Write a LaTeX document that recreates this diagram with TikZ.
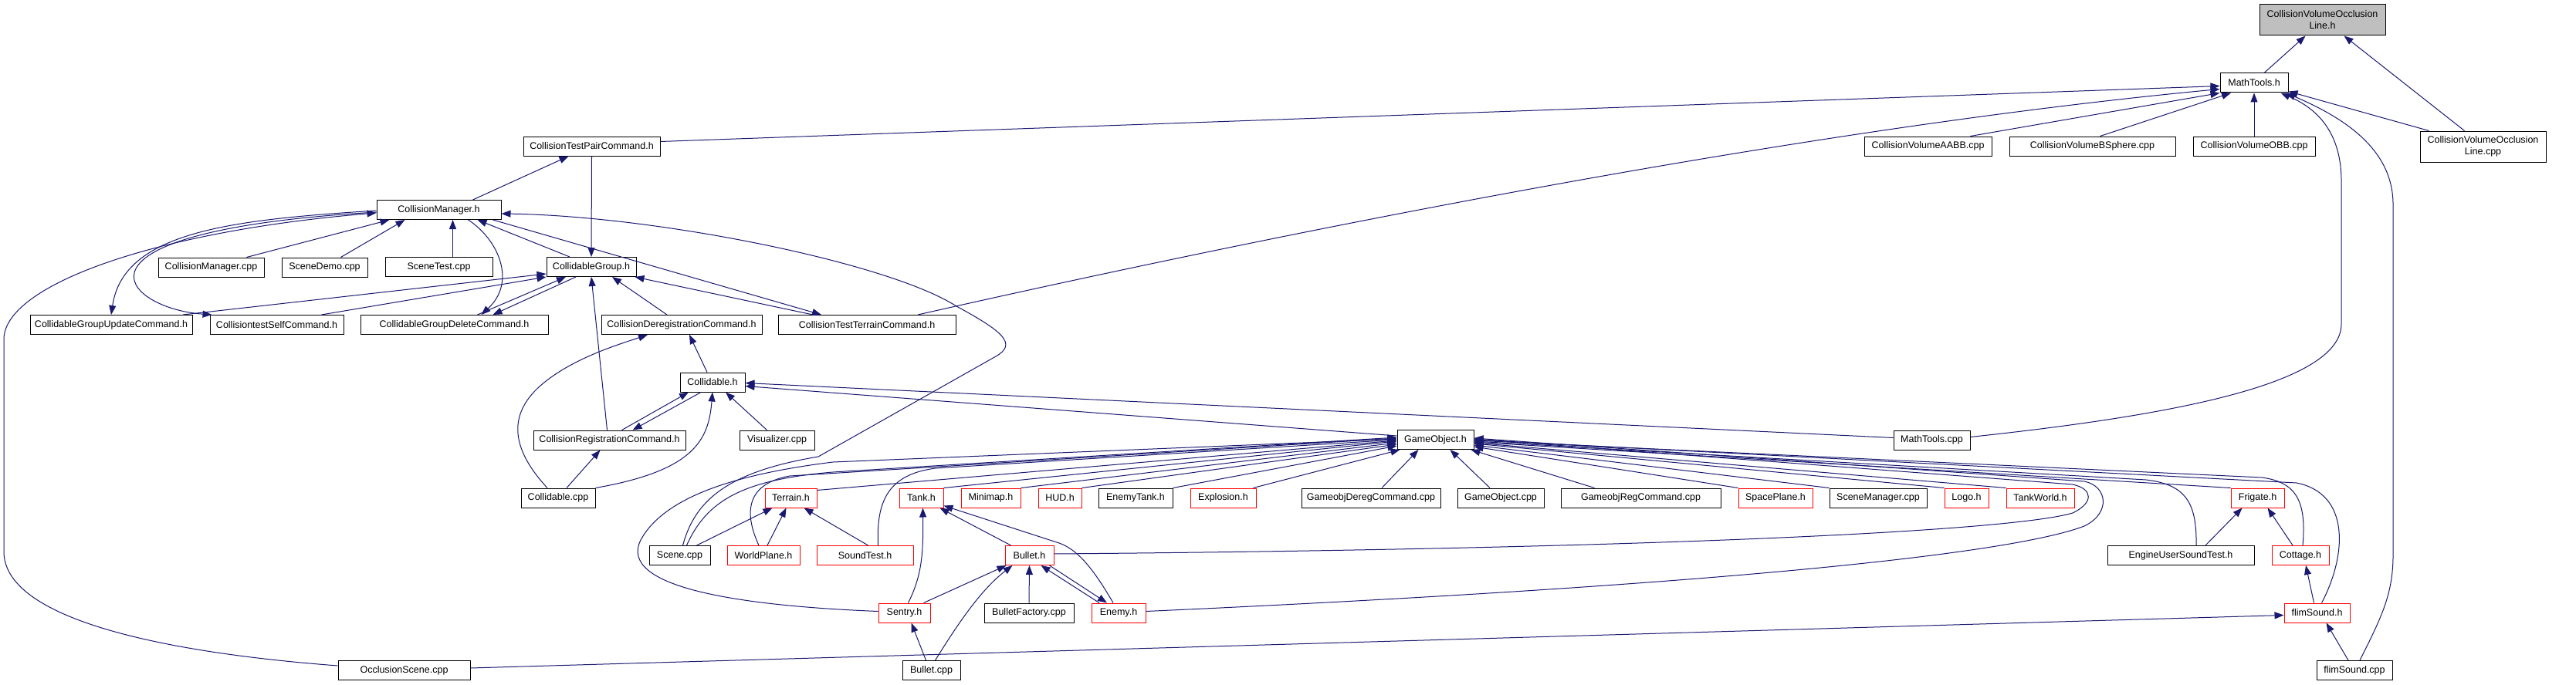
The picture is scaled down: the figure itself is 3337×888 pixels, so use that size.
\documentclass[tikz,border=0pt]{standalone}
\usepackage{fontspec}
\setmainfont{Liberation Sans}
\usetikzlibrary{arrows.meta}
\definecolor{edgec}{HTML}{191970}
\definecolor{rootfill}{HTML}{BFBFBF}
\begin{document}
\begin{tikzpicture}[x=1pt,y=-1pt,
  box/.style={draw=black, fill=white, line width=1pt, inner sep=0pt, minimum height=25pt, font=\fontsize{12.5}{15}\selectfont, align=center},
  rbox/.style={box, draw=red},
  gbox/.style={box, fill=rootfill},
  dep/.style={draw=edgec, line width=1pt, -{Triangle[length=12pt,width=9pt]}}]
\path[use as bounding box, fill=white] (0,0) rectangle (3337,888);

% nodes
\node[gbox,minimum width=163pt,minimum height=40pt] (cvolh) at (3008.5,26) {CollisionVolumeOcclusion\\Line.h};
\node[box,minimum width=88pt] (mth) at (2920,107.5) {MathTools.h};
\node[box,minimum width=158pt] (obb) at (2920,189.5) {CollisionVolumeOBB.cpp};
\node[box,minimum width=163pt,minimum height=40pt] (cvolcpp) at (3216.5,190) {CollisionVolumeOcclusion\\Line.cpp};
\node[box,minimum width=165pt] (aabb) at (2497.5,189.5) {CollisionVolumeAABB.cpp};
\node[box,minimum width=215pt] (bsph) at (2710.5,189.5) {CollisionVolumeBSphere.cpp};
\node[box,minimum width=177pt] (ctpc) at (766.5,189.5) {CollisionTestPairCommand.h};
\node[box,minimum width=161pt] (cmh) at (568.5,272) {CollisionManager.h};
\node[box,minimum width=137pt] (cmcpp) at (273.5,346.5) {CollisionManager.cpp};
\node[box,minimum width=111pt] (sdemo) at (420.5,346.5) {SceneDemo.cpp};
\node[box,minimum width=139pt] (stest) at (568.5,346) {SceneTest.cpp};
\node[box,minimum width=116pt] (cgh) at (766,346) {CollidableGroup.h};
\node[box,minimum width=210pt] (cguc) at (144,421) {CollidableGroupUpdateCommand.h};
\node[box,minimum width=173pt] (ctsc) at (358.5,421) {CollisiontestSelfCommand.h};
\node[box,minimum width=243pt] (cgdc) at (588.5,421) {CollidableGroupDeleteCommand.h};
\node[box,minimum width=208pt] (cdc) at (883,421) {CollisionDeregistrationCommand.h};
\node[box,minimum width=230pt] (cttc) at (1123,421) {CollisionTestTerrainCommand.h};
\node[box,minimum width=84pt] (colh) at (923,495.5) {Collidable.h};
\node[box,minimum width=197pt] (crc) at (789.5,570.5) {CollisionRegistrationCommand.h};
\node[box,minimum width=97pt] (vis) at (1006.5,570.5) {Visualizer.cpp};
\node[box,minimum width=96pt] (colcpp) at (723,645.5) {Collidable.cpp};
\node[rbox,minimum width=67pt] (terrain) at (1024.5,645.5) {Terrain.h};
\node[box,minimum width=79pt] (scenecpp) at (880.5,720) {Scene.cpp};
\node[rbox,minimum width=94pt] (worldplane) at (989,720) {WorldPlane.h};
\node[rbox,minimum width=125pt] (soundtest) at (1120.5,720) {SoundTest.h};
\node[box,minimum width=171pt] (occ) at (523.5,869) {OcclusionScene.cpp};
\node[rbox,minimum width=57pt] (tank) at (1193.5,645.5) {Tank.h};
\node[rbox,minimum width=77pt] (minimap) at (1283.5,645.5) {Minimap.h};
\node[rbox,minimum width=56pt] (hud) at (1373,645.5) {HUD.h};
\node[box,minimum width=96pt] (enemytank) at (1471,645.5) {EnemyTank.h};
\node[rbox,minimum width=85pt] (explosion) at (1584.5,645.5) {Explosion.h};
\node[rbox,minimum width=63pt] (bulleth) at (1333.5,720) {Bullet.h};
\node[rbox,minimum width=67pt] (sentry) at (1171.5,794.5) {Sentry.h};
\node[box,minimum width=116pt] (bfact) at (1333,794.5) {BulletFactory.cpp};
\node[rbox,minimum width=70pt] (enemy) at (1449,794.5) {Enemy.h};
\node[box,minimum width=75pt] (bulletcpp) at (1206.5,869) {Bullet.cpp};
\node[box,minimum width=99pt] (goh) at (1859.5,570) {GameObject.h};
\node[box,minimum width=180pt] (gdereg) at (1776,645.5) {GameobjDeregCommand.cpp};
\node[box,minimum width=112pt] (gocpp) at (1944,645.5) {GameObject.cpp};
\node[box,minimum width=207pt] (greg) at (2125.5,645.5) {GameobjRegCommand.cpp};
\node[box,minimum width=99pt] (mtcpp) at (2502.5,570.5) {MathTools.cpp};
\node[rbox,minimum width=96pt] (spaceplane) at (2300,645.5) {SpacePlane.h};
\node[box,minimum width=126pt] (scenemgr) at (2433,645.5) {SceneManager.cpp};
\node[rbox,minimum width=57pt] (logo) at (2547.5,645.5) {Logo.h};
\node[rbox,minimum width=88pt] (tankworld) at (2643,645.5) {TankWorld.h};
\node[box,minimum width=190pt] (eust) at (2825,720) {EngineUserSoundTest.h};
\node[rbox,minimum width=69pt] (frigate) at (2924.5,645.5) {Frigate.h};
\node[rbox,minimum width=74pt] (cottage) at (2980,720) {Cottage.h};
\node[rbox,minimum width=85pt] (flimh) at (3001.5,794.5) {flimSound.h};
\node[box,minimum width=98pt] (flimcpp) at (3050,869) {flimSound.cpp};

% MathTools.h cluster
\draw[dep] ([xshift=13pt]mth.north) -- ([xshift=-22pt]cvolh.south);
\draw[dep] ([xshift=-24pt]cvolcpp.north) -- ([xshift=28pt]cvolh.south);
\draw[dep] ([xshift=-70pt]cvolcpp.north) -- ([yshift=2pt]mth.south east);
\draw[dep] (obb.north) -- (mth.south);
\draw[dep] ([xshift=10pt]bsph.north) -- ([xshift=-30pt]mth.south);
\draw[dep] ([xshift=55pt]aabb.north) -- (mth.south west);
\draw[dep] ([yshift=6pt]ctpc.east) -- ([yshift=-4pt]mth.west);
\draw[dep] ([xshift=66pt]cttc.north) .. controls (1600,315) and (2300,170) .. ([yshift=-8pt]mth.west);
\draw[dep] ([yshift=4pt]mtcpp.east) .. controls (2800,540) and (3033,500) .. (3033,420) -- (3033,235) .. controls (3033,170) and (3000,140) .. ([xshift=-10pt]mth.south east);
\draw[dep] ([xshift=7pt]flimcpp.north) .. controls (3085,800) and (3100,770) .. (3100,720) -- (3100,265) .. controls (3100,190) and (3030,150) .. ([xshift=-3pt]mth.south east);

% CollisionManager cluster
\draw[dep] ([xshift=44pt]cmh.north) -- ([xshift=-30pt]ctpc.south);
\draw[dep] (ctpc.south) -- (cgh.north);
\draw[dep] ([xshift=46pt]cmcpp.north) -- ([xshift=-64pt]cmh.south);
\draw[dep] ([xshift=21pt]sdemo.north) -- ([xshift=-44pt]cmh.south);
\draw[dep] ([xshift=18pt]stest.north) -- ([xshift=18pt]cmh.south);
\draw[dep] ([xshift=-28pt]cgh.north) -- ([xshift=50pt]cmh.south);
\draw[dep] ([xshift=38pt]cmh.south) .. controls (645,310) and (670,365) .. ([xshift=35pt]cgdc.north);
\draw[dep] ([xshift=70pt]cmh.south) -- ([xshift=-59pt]cttc.north);
\draw[dep] ([yshift=-1pt]cmh.west) .. controls (300,285) and (160,300) .. (cguc.north);
\draw[dep] ([yshift=-3pt]cmh.west) .. controls (60,300) and (160,400) .. ([xshift=-84pt]ctsc.north);
\draw[dep] ([yshift=6pt]occ.west) .. controls (200,845) and (5,800) .. (5,715) -- (5,440) .. controls (5,370) and (200,300) .. ([yshift=-4pt]cmh.west);
\draw[dep] ([xshift=4pt]scenecpp.north) .. controls (900,650) and (940,612) .. (1060,592) -- (1290,462) .. controls (1318,446) and (1300,430) .. (1239,397) .. controls (1150,340) and (850,280) .. ([yshift=-5pt]cmh.east);

% CollidableGroup cluster
\draw[dep] ([xshift=93pt]cguc.north) -- ([yshift=-9pt]cgh.west);
\draw[dep] ([xshift=58pt]ctsc.north) -- (cgh.south west);
\draw[dep] ([xshift=30pt]cgdc.north) -- ([xshift=-33pt]cgh.south);
\draw[dep] ([xshift=-20pt]cgh.south) -- ([xshift=50pt]cgdc.north);
\draw[dep] ([xshift=-19pt]cdc.north) -- ([xshift=27pt]cgh.south);
\draw[dep] ([xshift=-70pt]cttc.north) -- ([xshift=-2pt]cgh.south east);
\draw[dep] ([xshift=-3pt]crc.north) -- (cgh.south);

% Collidable cluster
\draw[dep] ([xshift=-7pt]colh.north) -- ([xshift=10pt]cdc.south);
\draw[dep] ([xshift=-14pt]colcpp.north) .. controls (665,585) and (655,540) .. (700,500) .. controls (740,465) and (800,447) .. ([xshift=-44pt]cdc.south);
\draw[dep] ([xshift=16pt]crc.north) -- ([xshift=-31pt]colh.south);
\draw[dep] ([xshift=-15pt]colh.south) -- ([xshift=30pt]crc.north);
\draw[dep] ([xshift=11pt]colcpp.north) -- ([xshift=-12pt]crc.south);
\draw[dep] (colcpp.north east) .. controls (900,610) and (918,570) .. (colh.south);
\draw[dep] ([xshift=-13pt]vis.north) -- ([xshift=17pt]colh.south);
\draw[dep] ([yshift=5pt]goh.west) -- ([yshift=-5pt]colh.east);
\draw[dep] ([yshift=3pt]mtcpp.west) -- ([yshift=-1pt]colh.east);

% Terrain
\draw[dep] ([xshift=22pt]scenecpp.north) -- ([xshift=-24pt]terrain.south);
\draw[dep] ([xshift=5pt]worldplane.north) -- ([xshift=-6pt]terrain.south);
\draw[dep] ([xshift=4pt]soundtest.north) -- ([xshift=17pt]terrain.south);

% GameObject incoming, left side
\draw[dep] ([yshift=10pt]terrain.east) -- ([yshift=-1pt]goh.west);
\draw[dep] ([xshift=9pt]scenecpp.north) .. controls (915,650) and (960,622) .. (1079,612) -- ([yshift=3pt]goh.west);
\draw[dep] ([xshift=-6pt]worldplane.north) .. controls (966,670) and (962,628) .. (1023,617) -- ([yshift=2pt]goh.west);
\draw[dep] ([xshift=17pt]soundtest.north) .. controls (1135,650) and (1150,615) .. (1212,607) -- (goh.west);
\draw[dep] ([yshift=2pt]sentry.west) .. controls (950,785) and (800,760) .. (830,700) .. controls (860,645) and (950,615) .. (1079,599) -- ([yshift=1pt]goh.west);
\draw[dep] (tank.north east) -- ([yshift=-2pt]goh.west);
\draw[dep] (minimap.north east) -- ([yshift=-4pt]goh.west);
\draw[dep] (hud.north east) -- ([yshift=-6pt]goh.west);
\draw[dep] (enemytank.north east) -- ([yshift=-8pt]goh.west);
\draw[dep] ([xshift=-4pt]explosion.north east) -- ([xshift=4pt]goh.south west);
\draw[dep] ([xshift=14pt]gdereg.north) -- ([xshift=-22pt]goh.south);
\draw[dep] ([xshift=-14pt]gocpp.north) -- ([xshift=19pt]goh.south);
\draw[dep] ([xshift=-60pt]greg.north) -- ([xshift=-4pt]goh.south east);
% GameObject incoming, right side
\draw[dep] (spaceplane.north west) -- ([yshift=-9pt]goh.east);
\draw[dep] (scenemgr.north west) -- ([yshift=-7pt]goh.east);
\draw[dep] (logo.north west) -- ([yshift=-5pt]goh.east);
\draw[dep] (tankworld.north west) -- ([yshift=-4pt]goh.east);
\draw[dep] (frigate.north west) -- ([yshift=-3pt]goh.east);
\draw[dep] ([xshift=20pt]eust.north) .. controls (2846,650) and (2830,628) .. (2780,622) -- ([yshift=-2pt]goh.east);
\draw[dep] ([xshift=3pt]cottage.north) .. controls (2988,650) and (2975,625) .. (2930,619) -- ([yshift=-1pt]goh.east);
\draw[dep] ([xshift=6pt]flimh.north) .. controls (3040,720) and (3045,640) .. (2975,626) -- (goh.east);
\draw[dep] ([yshift=2pt]bulleth.east) .. controls (2100,712) and (2600,690) .. (2685,665) .. controls (2712,652) and (2712,634) .. (2685,628) -- ([yshift=1pt]goh.east);
\draw[dep] ([yshift=2pt]enemy.east) .. controls (2200,760) and (2600,720) .. (2700,682) .. controls (2735,665) and (2730,630) .. (2700,624) -- ([yshift=2pt]goh.east);

% Tank cluster
\draw[dep] ([xshift=-24pt]bulleth.north) -- ([xshift=24pt]tank.south);
\draw[dep] ([xshift=-7pt]enemy.north) .. controls (1415,735) and (1395,712) .. (1372,704) -- ([yshift=3pt]tank.south east);
\draw[dep] ([xshift=5pt]sentry.north) .. controls (1195,745) and (1196,715) .. ([xshift=2pt]tank.south);

% Bullet cluster
\draw[dep] ([xshift=25pt]sentry.north) -- ([xshift=-30pt]bulleth.south);
\draw[dep] ([xshift=5pt]bulletcpp.north) .. controls (1240,810) and (1270,765) .. ([xshift=-22pt]bulleth.south);
\draw[dep] (bfact.north) -- (bulleth.south);
\draw[dep] ([xshift=-25pt]enemy.north) -- ([xshift=15pt]bulleth.south);
\draw[dep] ([xshift=26pt]bulleth.south) -- ([xshift=-15pt]enemy.north);
\draw[dep] ([xshift=-7pt]bulletcpp.north) -- ([xshift=9pt]sentry.south);

% sound cluster
\draw[dep] ([yshift=3pt]occ.east) -- ([yshift=-3pt]flimh.west);
\draw[dep] ([xshift=32pt]eust.north) -- ([xshift=-20pt]frigate.south);
\draw[dep] ([xshift=-10pt]cottage.north) -- ([xshift=13pt]frigate.south);
\draw[dep] ([xshift=-4pt]flimh.north) -- ([xshift=7pt]cottage.south);
\draw[dep] ([xshift=-8pt]flimcpp.north) -- ([xshift=12pt]flimh.south);
\end{tikzpicture}
\end{document}
